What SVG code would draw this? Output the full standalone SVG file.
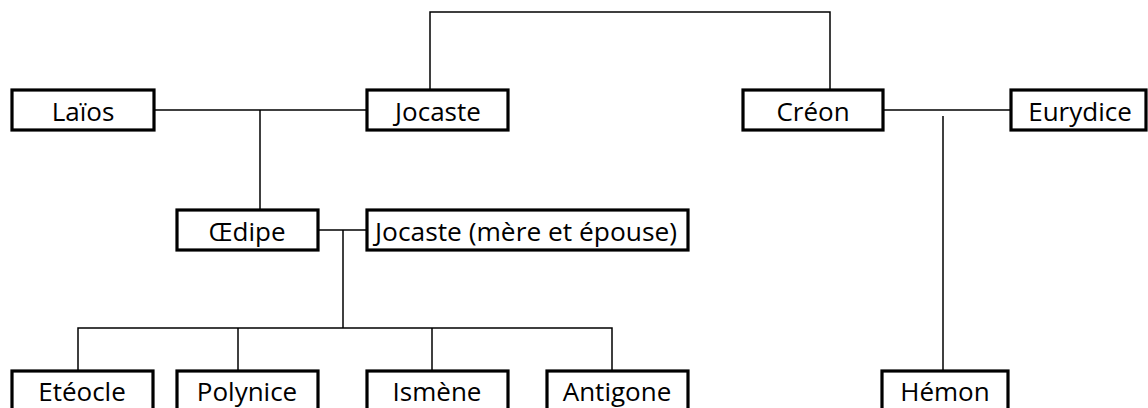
<svg xmlns="http://www.w3.org/2000/svg" width="1148" height="408" viewBox="0 0 1148 408">
<style>
.box{fill:#fff;stroke:#000;stroke-width:3.2}
.lbl{font-family:"Open Sans","Noto Sans",sans-serif;font-size:26px;fill:#000;text-anchor:middle}
.lft{text-anchor:start}
.ln{fill:none;stroke:#000;stroke-width:1.5}
</style>
<rect width="1148" height="408" fill="#fff"/>
<g id="connectors">
<path class="ln" d="M430,90 V12 H830 V90"/>
<path class="ln" d="M155,110 H367"/>
<path class="ln" d="M260,110 V210"/>
<path class="ln" d="M883,110 H1011"/>
<path class="ln" d="M943,116 V371"/>
<path class="ln" d="M318,230 H367"/>
<path class="ln" d="M343,230 V328"/>
<path class="ln" d="M78,371 V328 H612 V371"/>
<path class="ln" d="M238,328 V371"/>
<path class="ln" d="M432,328 V371"/>
</g>
<g id="laios"><rect class="box" x="12" y="90" width="142" height="40"/><text class="lbl" x="83" y="121">Laïos</text></g>
<g id="jocaste"><rect class="box" x="367" y="90" width="141" height="40"/><text class="lbl" x="438" y="121">Jocaste</text></g>
<g id="creon"><rect class="box" x="743" y="90" width="140" height="40"/><text class="lbl" x="813" y="121">Créon</text></g>
<g id="eurydice"><rect class="box" x="1011" y="90" width="135" height="40"/><text class="lbl" x="1080" y="121">Eurydice</text></g>
<g id="oedipe"><rect class="box" x="177" y="210" width="141" height="40"/><text class="lbl" x="247" y="241">Œdipe</text></g>
<g id="jocaste2"><rect class="box" x="367" y="210" width="321" height="40"/><text class="lbl lft" x="375" y="241" textLength="302" lengthAdjust="spacingAndGlyphs">Jocaste (mère et épouse)</text></g>
<g id="eteocle"><rect class="box" x="12" y="371" width="141" height="45"/><text class="lbl" x="82" y="401">Etéocle</text></g>
<g id="polynice"><rect class="box" x="177" y="371" width="141" height="45"/><text class="lbl" x="247" y="401">Polynice</text></g>
<g id="ismene"><rect class="box" x="367" y="371" width="141" height="45"/><text class="lbl" x="437" y="401">Ismène</text></g>
<g id="antigone"><rect class="box" x="547" y="371" width="141" height="45"/><text class="lbl" x="617" y="401">Antigone</text></g>
<g id="hemon"><rect class="box" x="882" y="371" width="126" height="45"/><text class="lbl" x="945" y="401">Hémon</text></g>
</svg>
